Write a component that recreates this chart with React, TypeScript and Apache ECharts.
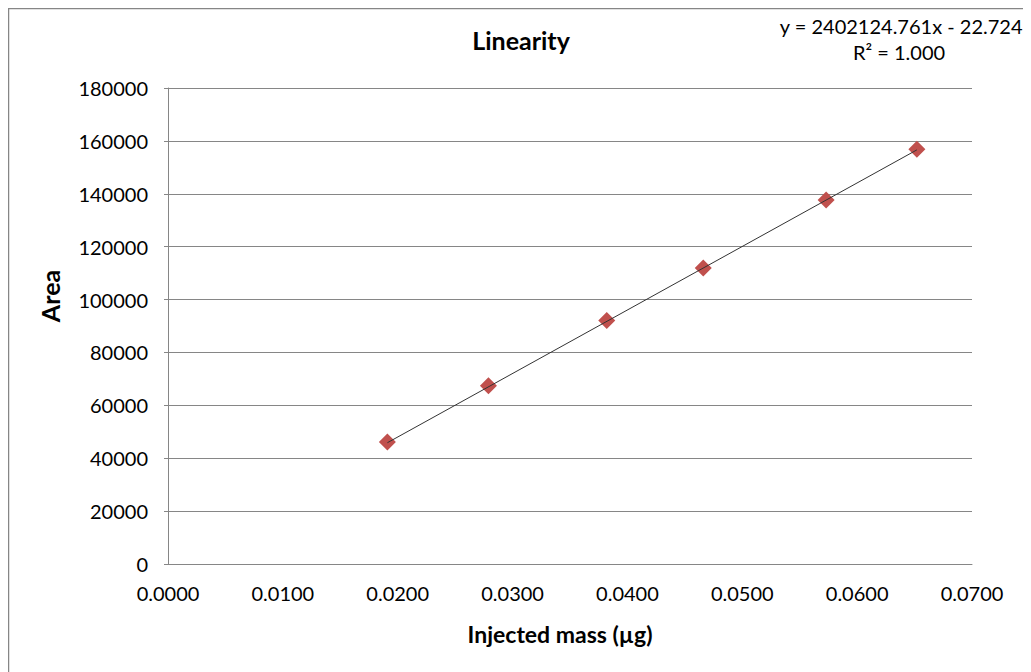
import React, { useEffect, useRef } from "react";
import * as echarts from "echarts";

const massValues = [0.0191, 0.0279, 0.0382, 0.0466, 0.0573, 0.0652];
const areaValues = [46100, 67400, 92100, 111900, 137600, 156800];
const slope = 2402124.761;
const intercept = -22.724;
const equationText = "y = 2402124.761x - 22.724";
const r2Text = "R² = 1.000";
const titleText = "Linearity";
const xAxisTitle = "Injected mass (µg)";
const yAxisTitle = "Area";

const FONT = "Lato, 'Open Sans', sans-serif";

export default function App() {
  const ref = useRef<HTMLDivElement>(null);
  useEffect(() => {
    if (!ref.current) return;
    const chart = echarts.init(ref.current, null, { renderer: "svg" });
    const points = massValues.map((x, i) => [x, areaValues[i]]);
    const xMin = Math.min(...massValues);
    const xMax = Math.max(...massValues);
    const trend = [
      [xMin, slope * xMin + intercept],
      [xMax, slope * xMax + intercept],
    ];
    chart.setOption({
      animation: false,
      backgroundColor: "#fff",
      textStyle: { fontFamily: FONT },
      title: {
        text: titleText,
        left: 508,
        top: 14,
        textAlign: "center",
        textStyle: { fontSize: 25, fontWeight: "bold", color: "#000", fontFamily: FONT },
      },
      grid: { left: 160, right: 59, top: 80, bottom: 108, containLabel: false },
      xAxis: {
        type: "value",
        min: 0,
        max: 0.07,
        interval: 0.01,
        name: xAxisTitle,
        nameLocation: "middle",
        nameGap: 58,
        nameTextStyle: {
          fontSize: 23,
          fontWeight: "bold",
          color: "#000",
          fontFamily: FONT,
          padding: [0, 20, 0, 0],
        },
        axisLine: { show: true, lineStyle: { color: "#868686", width: 1 } },
        axisTick: { show: false },
        splitLine: { show: false },
        axisLabel: {
          fontSize: 20,
          color: "#000",
          margin: 19,
          fontFamily: FONT,
          formatter: (v: number) => v.toFixed(4),
        },
      },
      yAxis: {
        type: "value",
        min: 0,
        max: 180000,
        interval: 20000,
        name: yAxisTitle,
        nameLocation: "middle",
        nameGap: 106,
        nameRotate: 90,
        nameTextStyle: {
          fontSize: 25,
          fontWeight: "bold",
          color: "#000",
          fontFamily: FONT,
          padding: [0, 0, 0, 60],
        },
        axisLine: { show: true, lineStyle: { color: "#868686", width: 1 } },
        axisTick: { show: true, length: 4, lineStyle: { color: "#868686" } },
        splitLine: { show: true, lineStyle: { color: "#868686", width: 1 } },
        axisLabel: {
          fontSize: 20,
          color: "#000",
          margin: 20,
          fontFamily: FONT,
          formatter: (v: number) => String(v),
        },
      },
      series: [
        {
          type: "line",
          data: trend,
          symbol: "none",
          lineStyle: { color: "#333", width: 1 },
          z: 3,
        },
        {
          type: "scatter",
          data: points,
          symbol: "diamond",
          symbolSize: 17,
          itemStyle: { color: "#C0504D", opacity: 1 },
          z: 2,
        },
      ],
      graphic: [
        {
          type: "rect",
          shape: { x: 0.5, y: 0.5, width: 1019, height: 720 },
          style: { fill: "none", stroke: "#868686", lineWidth: 1.5 },
          silent: true,
        },
        {
          type: "text",
          right: 8,
          top: 8,
          style: { text: equationText, fontSize: 20, fill: "#000", fontFamily: FONT },
        },
        {
          type: "text",
          x: 891,
          y: 34,
          style: {
            text: r2Text,
            fontSize: 20,
            fill: "#000",
            fontFamily: FONT,
            textAlign: "center",
            textVerticalAlign: "top",
          },
        },
      ],
    });
    return () => chart.dispose();
  }, []);
  return <div ref={ref} style={{ width: 1023, height: 664 }} />;
}
